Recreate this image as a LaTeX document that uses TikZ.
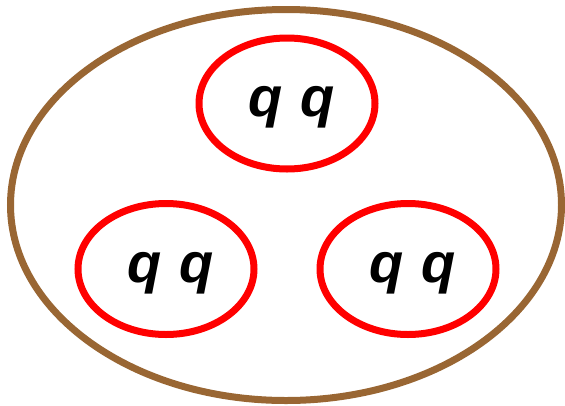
\documentclass[tikz,border=0pt]{standalone}
\usepackage{fontspec}
\newfontfamily\quarkfont{Liberation Sans}
\usetikzlibrary{shapes.geometric}
\usepackage{xcolor}
\definecolor{hadron}{HTML}{996633}
\definecolor{pair}{HTML}{FF0000}
\newcommand{\qqpair}{\hspace{9pt}q\hspace{0.32em}q}

\begin{document}
\begin{tikzpicture}[x=1pt,y=-1pt,
      baryon/.style={ellipse,draw=hadron,line width=7pt,minimum width=551pt,minimum height=391pt,inner sep=0pt},
      diquark/.style={ellipse,draw=pair,line width=7pt,minimum width=176pt,minimum height=131pt,inner sep=0pt,
        text height=38pt,font=\quarkfont\bfseries\itshape\fontsize{56}{60}\selectfont}]

    \useasboundingbox (0,0) rectangle (565,405);

    \node[baryon] (outer) at (286,205) {};
    \node[diquark] (top) at (287,103.5) {\qqpair};
    \node[diquark] (left) at (166,269) {\qqpair};
    \node[diquark] (right) at (408,269) {\qqpair};
  \end{tikzpicture}
\end{document}
